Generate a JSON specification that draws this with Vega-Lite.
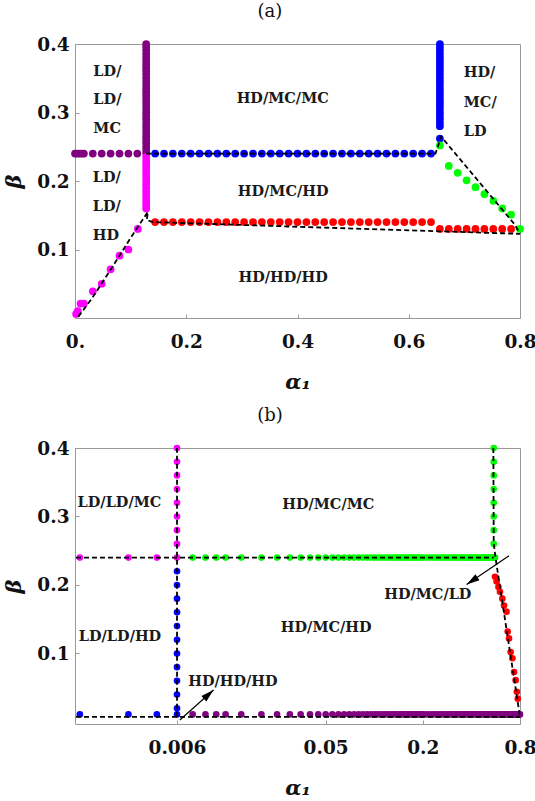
{
  "$schema": "https://vega.github.io/schema/vega-lite/v6.json",
  "background": "white",
  "padding": {"left": 3, "top": 2, "right": 5, "bottom": 5},
  "spacing": 13,
  "config": {
    "view": {"stroke": "#999999", "strokeWidth": 1},
    "axis": {
      "grid": false, "domain": false, "labelFlush": false, "labelOverlap": false,
      "labelFont": "DejaVu Serif", "labelFontWeight": "bold", "labelFontSize": 18.5, "labelColor": "#111111",
      "titleFont": "DejaVu Serif", "titleFontWeight": "bold", "titleFontStyle": "italic", "titleFontSize": 21, "titleColor": "#111111",
      "tickColor": "#999999", "tickSize": -4, "tickWidth": 1
    },
    "title": {"font": "DejaVu Serif", "fontSize": 18, "fontWeight": "normal", "color": "#111111"}
  },
  "vconcat": [
    {
      "title": {"text": "(a)", "frame": "bounds", "anchor": "middle", "offset": 14},
      "width": 445, "height": 274,
      "layer": [
        {
          "data": {"values": [
            {"a":0.0,"b":0.24,"c":"pu"},{"a":0.004,"b":0.24,"c":"pu"},{"a":0.008,"b":0.24,"c":"pu"},{"a":0.012,"b":0.24,"c":"pu"},{"a":0.016,"b":0.24,"c":"pu"},
            {"a":0.032,"b":0.24,"c":"pu"},{"a":0.048,"b":0.24,"c":"pu"},{"a":0.064,"b":0.24,"c":"pu"},{"a":0.08,"b":0.24,"c":"pu"},{"a":0.096,"b":0.24,"c":"pu"},{"a":0.112,"b":0.24,"c":"pu"},
            {"a":0.128,"b":0.24,"c":"pu"},{"a":0.128,"b":0.245,"c":"pu"},{"a":0.128,"b":0.25,"c":"pu"},{"a":0.128,"b":0.255,"c":"pu"},{"a":0.128,"b":0.26,"c":"pu"},{"a":0.128,"b":0.265,"c":"pu"},{"a":0.128,"b":0.27,"c":"pu"},{"a":0.128,"b":0.275,"c":"pu"},{"a":0.128,"b":0.28,"c":"pu"},{"a":0.128,"b":0.285,"c":"pu"},{"a":0.128,"b":0.29,"c":"pu"},{"a":0.128,"b":0.295,"c":"pu"},{"a":0.128,"b":0.3,"c":"pu"},{"a":0.128,"b":0.305,"c":"pu"},{"a":0.128,"b":0.31,"c":"pu"},{"a":0.128,"b":0.315,"c":"pu"},{"a":0.128,"b":0.32,"c":"pu"},{"a":0.128,"b":0.325,"c":"pu"},{"a":0.128,"b":0.33,"c":"pu"},{"a":0.128,"b":0.335,"c":"pu"},{"a":0.128,"b":0.34,"c":"pu"},{"a":0.128,"b":0.345,"c":"pu"},{"a":0.128,"b":0.35,"c":"pu"},{"a":0.128,"b":0.355,"c":"pu"},{"a":0.128,"b":0.36,"c":"pu"},{"a":0.128,"b":0.365,"c":"pu"},{"a":0.128,"b":0.37,"c":"pu"},{"a":0.128,"b":0.375,"c":"pu"},{"a":0.128,"b":0.38,"c":"pu"},{"a":0.128,"b":0.385,"c":"pu"},{"a":0.128,"b":0.39,"c":"pu"},{"a":0.128,"b":0.395,"c":"pu"},{"a":0.128,"b":0.4,"c":"pu"},
            {"a":0.128,"b":0.16,"c":"ma"},{"a":0.128,"b":0.165,"c":"ma"},{"a":0.128,"b":0.17,"c":"ma"},{"a":0.128,"b":0.175,"c":"ma"},{"a":0.128,"b":0.18,"c":"ma"},{"a":0.128,"b":0.185,"c":"ma"},{"a":0.128,"b":0.19,"c":"ma"},{"a":0.128,"b":0.195,"c":"ma"},{"a":0.128,"b":0.2,"c":"ma"},{"a":0.128,"b":0.205,"c":"ma"},{"a":0.128,"b":0.21,"c":"ma"},{"a":0.128,"b":0.215,"c":"ma"},{"a":0.128,"b":0.22,"c":"ma"},{"a":0.128,"b":0.225,"c":"ma"},{"a":0.128,"b":0.23,"c":"ma"},{"a":0.128,"b":0.235,"c":"ma"},
            {"a":0.002,"b":0.006,"c":"ma"},{"a":0.005,"b":0.01,"c":"ma"},{"a":0.01,"b":0.021,"c":"ma"},{"a":0.016,"b":0.021,"c":"ma"},{"a":0.032,"b":0.039,"c":"ma"},{"a":0.048,"b":0.05,"c":"ma"},{"a":0.064,"b":0.071,"c":"ma"},{"a":0.08,"b":0.091,"c":"ma"},{"a":0.096,"b":0.1,"c":"ma"},{"a":0.113,"b":0.13,"c":"ma"},
            {"a":0.144,"b":0.24,"c":"bl"},{"a":0.16,"b":0.24,"c":"bl"},{"a":0.176,"b":0.24,"c":"bl"},{"a":0.192,"b":0.24,"c":"bl"},{"a":0.208,"b":0.24,"c":"bl"},{"a":0.224,"b":0.24,"c":"bl"},{"a":0.24,"b":0.24,"c":"bl"},{"a":0.256,"b":0.24,"c":"bl"},{"a":0.272,"b":0.24,"c":"bl"},{"a":0.288,"b":0.24,"c":"bl"},{"a":0.304,"b":0.24,"c":"bl"},{"a":0.32,"b":0.24,"c":"bl"},{"a":0.336,"b":0.24,"c":"bl"},{"a":0.352,"b":0.24,"c":"bl"},{"a":0.368,"b":0.24,"c":"bl"},{"a":0.384,"b":0.24,"c":"bl"},{"a":0.4,"b":0.24,"c":"bl"},{"a":0.416,"b":0.24,"c":"bl"},{"a":0.432,"b":0.24,"c":"bl"},{"a":0.448,"b":0.24,"c":"bl"},{"a":0.464,"b":0.24,"c":"bl"},{"a":0.48,"b":0.24,"c":"bl"},{"a":0.496,"b":0.24,"c":"bl"},{"a":0.512,"b":0.24,"c":"bl"},{"a":0.528,"b":0.24,"c":"bl"},{"a":0.544,"b":0.24,"c":"bl"},{"a":0.56,"b":0.24,"c":"bl"},{"a":0.576,"b":0.24,"c":"bl"},{"a":0.592,"b":0.24,"c":"bl"},{"a":0.608,"b":0.24,"c":"bl"},{"a":0.624,"b":0.24,"c":"bl"},{"a":0.64,"b":0.24,"c":"bl"},
            {"a":0.656,"b":0.262,"c":"bl"},{"a":0.656,"b":0.28,"c":"bl"},{"a":0.656,"b":0.285,"c":"bl"},{"a":0.656,"b":0.29,"c":"bl"},{"a":0.656,"b":0.295,"c":"bl"},{"a":0.656,"b":0.3,"c":"bl"},{"a":0.656,"b":0.305,"c":"bl"},{"a":0.656,"b":0.31,"c":"bl"},{"a":0.656,"b":0.315,"c":"bl"},{"a":0.656,"b":0.32,"c":"bl"},{"a":0.656,"b":0.325,"c":"bl"},{"a":0.656,"b":0.33,"c":"bl"},{"a":0.656,"b":0.335,"c":"bl"},{"a":0.656,"b":0.34,"c":"bl"},{"a":0.656,"b":0.345,"c":"bl"},{"a":0.656,"b":0.35,"c":"bl"},{"a":0.656,"b":0.355,"c":"bl"},{"a":0.656,"b":0.36,"c":"bl"},{"a":0.656,"b":0.365,"c":"bl"},{"a":0.656,"b":0.37,"c":"bl"},{"a":0.656,"b":0.375,"c":"bl"},{"a":0.656,"b":0.38,"c":"bl"},{"a":0.656,"b":0.385,"c":"bl"},{"a":0.656,"b":0.39,"c":"bl"},{"a":0.656,"b":0.395,"c":"bl"},{"a":0.656,"b":0.4,"c":"bl"},
            {"a":0.144,"b":0.14,"c":"re"},{"a":0.16,"b":0.14,"c":"re"},{"a":0.176,"b":0.14,"c":"re"},{"a":0.192,"b":0.14,"c":"re"},{"a":0.208,"b":0.14,"c":"re"},{"a":0.224,"b":0.14,"c":"re"},{"a":0.24,"b":0.14,"c":"re"},{"a":0.256,"b":0.14,"c":"re"},{"a":0.272,"b":0.14,"c":"re"},{"a":0.288,"b":0.14,"c":"re"},{"a":0.304,"b":0.14,"c":"re"},{"a":0.32,"b":0.14,"c":"re"},{"a":0.336,"b":0.14,"c":"re"},{"a":0.352,"b":0.14,"c":"re"},{"a":0.368,"b":0.14,"c":"re"},{"a":0.384,"b":0.14,"c":"re"},{"a":0.4,"b":0.14,"c":"re"},{"a":0.416,"b":0.14,"c":"re"},{"a":0.432,"b":0.14,"c":"re"},{"a":0.448,"b":0.14,"c":"re"},{"a":0.464,"b":0.14,"c":"re"},{"a":0.48,"b":0.14,"c":"re"},{"a":0.496,"b":0.14,"c":"re"},{"a":0.512,"b":0.14,"c":"re"},{"a":0.528,"b":0.14,"c":"re"},{"a":0.544,"b":0.14,"c":"re"},{"a":0.56,"b":0.14,"c":"re"},{"a":0.576,"b":0.14,"c":"re"},{"a":0.592,"b":0.14,"c":"re"},{"a":0.608,"b":0.14,"c":"re"},{"a":0.624,"b":0.14,"c":"re"},{"a":0.64,"b":0.14,"c":"re"},
            {"a":0.656,"b":0.13,"c":"re"},{"a":0.672,"b":0.13,"c":"re"},{"a":0.688,"b":0.13,"c":"re"},{"a":0.704,"b":0.13,"c":"re"},{"a":0.72,"b":0.13,"c":"re"},{"a":0.736,"b":0.13,"c":"re"},{"a":0.752,"b":0.13,"c":"re"},{"a":0.768,"b":0.13,"c":"re"},{"a":0.784,"b":0.13,"c":"re"},
            {"a":0.656,"b":0.252,"c":"gr"},{"a":0.672,"b":0.222,"c":"gr"},{"a":0.688,"b":0.212,"c":"gr"},{"a":0.704,"b":0.201,"c":"gr"},{"a":0.72,"b":0.191,"c":"gr"},{"a":0.736,"b":0.181,"c":"gr"},{"a":0.752,"b":0.171,"c":"gr"},{"a":0.768,"b":0.16,"c":"gr"},{"a":0.784,"b":0.151,"c":"gr"},{"a":0.8,"b":0.13,"c":"gr"}
          ]},
          "mark": {"type": "circle", "size": 60, "opacity": 1},
          "encoding": {
            "x": {"field": "a", "type": "quantitative", "scale": {"domain": [0, 0.8], "nice": false, "zero": false},
                  "axis": {"values": [0, 0.2, 0.4, 0.6, 0.8], "labelExpr": "datum.value === 0 ? '0.' : format(datum.value, '.1f')", "labelPadding": 18, "title": "α₁", "titlePadding": 21}},
            "y": {"field": "b", "type": "quantitative", "scale": {"domain": [0, 0.4], "nice": false},
                  "axis": {"values": [0.1, 0.2, 0.3, 0.4], "labelExpr": "format(datum.value, '.1f')", "labelPadding": 10, "title": "β", "titlePadding": 12}},
            "color": {"field": "c", "type": "nominal", "legend": null,
                      "scale": {"domain": ["pu", "ma", "bl", "re", "gr"], "range": ["#800080", "#ff00ff", "#0000ff", "#ff0000", "#00ff00"]}}
          }
        },
        {
          "data": {"values": [
            {"a":0.006,"b":0.002,"s":1,"o":1},{"a":0.03,"b":0.028,"s":1,"o":2},{"a":0.066,"b":0.073,"s":1,"o":3},{"a":0.1,"b":0.117,"s":1,"o":4},{"a":0.131,"b":0.155,"s":1,"o":5},{"a":0.129,"b":0.143,"s":1,"o":6},{"a":0.14,"b":0.14,"s":1,"o":7},{"a":0.8,"b":0.1228,"s":1,"o":8},
            {"a":0.128,"b":0.24,"s":2,"o":1},{"a":0.648,"b":0.24,"s":2,"o":2},{"a":0.653,"b":0.252,"s":2,"o":3},{"a":0.658,"b":0.265,"s":2,"o":4},{"a":0.79,"b":0.137,"s":2,"o":5},{"a":0.8,"b":0.123,"s":2,"o":6}
          ]},
          "mark": {"type": "line", "color": "black", "strokeWidth": 1.8, "strokeDash": [5, 3]},
          "encoding": {
            "x": {"field": "a", "type": "quantitative"},
            "y": {"field": "b", "type": "quantitative"},
            "detail": {"field": "s", "type": "nominal"},
            "order": {"field": "o", "type": "quantitative"}
          }
        },
        {
          "data": {"values": [
            {"a":0.033,"b":0.3595,"t":"LD/"},{"a":0.033,"b":0.3177,"t":"LD/"},{"a":0.033,"b":0.2762,"t":"MC"},
            {"a":0.032,"b":0.2037,"t":"LD/"},{"a":0.032,"b":0.1618,"t":"LD/"},{"a":0.032,"b":0.1194,"t":"HD"},
            {"a":0.699,"b":0.357,"t":"HD/"},{"a":0.699,"b":0.314,"t":"MC/"},{"a":0.699,"b":0.2714,"t":"LD"}
          ]},
          "mark": {"type": "text", "align": "left", "baseline": "middle", "font": "DejaVu Serif", "fontWeight": "bold", "fontSize": 14.5, "color": "#1a1a1a"},
          "encoding": {
            "x": {"field": "a", "type": "quantitative"},
            "y": {"field": "b", "type": "quantitative"},
            "text": {"field": "t"}
          }
        },
        {
          "data": {"values": [
            {"a":0.3734,"b":0.319,"t":"HD/MC/MC"},{"a":0.3742,"b":0.1837,"t":"HD/MC/HD"},{"a":0.3742,"b":0.0585,"t":"HD/HD/HD"}
          ]},
          "mark": {"type": "text", "align": "center", "baseline": "middle", "font": "DejaVu Serif", "fontWeight": "bold", "fontSize": 14.5, "color": "#1a1a1a"},
          "encoding": {
            "x": {"field": "a", "type": "quantitative"},
            "y": {"field": "b", "type": "quantitative"},
            "text": {"field": "t"}
          }
        }
      ]
    },
    {
      "title": {"text": "(b)", "frame": "bounds", "anchor": "middle", "offset": 14},
      "width": 445, "height": 276,
      "layer": [
        {
          "data": {"values": [
            {"a":0.006,"b":0.26,"c":"ma"},{"a":0.006,"b":0.28,"c":"ma"},{"a":0.006,"b":0.3,"c":"ma"},{"a":0.006,"b":0.32,"c":"ma"},{"a":0.006,"b":0.34,"c":"ma"},{"a":0.006,"b":0.36,"c":"ma"},{"a":0.006,"b":0.38,"c":"ma"},{"a":0.006,"b":0.4,"c":"ma"},
            {"a":0.0015,"b":0.24,"c":"ma"},{"a":0.003,"b":0.24,"c":"ma"},{"a":0.0045,"b":0.24,"c":"ma"},{"a":0.006,"b":0.24,"c":"ma"},
            {"a":0.006,"b":0.011,"c":"bl"},{"a":0.006,"b":0.02,"c":"bl"},{"a":0.006,"b":0.04,"c":"bl"},{"a":0.006,"b":0.06,"c":"bl"},{"a":0.006,"b":0.08,"c":"bl"},{"a":0.006,"b":0.1,"c":"bl"},{"a":0.006,"b":0.12,"c":"bl"},{"a":0.006,"b":0.14,"c":"bl"},{"a":0.006,"b":0.16,"c":"bl"},{"a":0.006,"b":0.18,"c":"bl"},{"a":0.006,"b":0.2,"c":"bl"},{"a":0.006,"b":0.22,"c":"bl"},
            {"a":0.0015,"b":0.011,"c":"bl"},{"a":0.003,"b":0.011,"c":"bl"},{"a":0.0045,"b":0.011,"c":"bl"},
            {"a":0.55,"b":0.26,"c":"gr"},{"a":0.55,"b":0.28,"c":"gr"},{"a":0.55,"b":0.3,"c":"gr"},{"a":0.55,"b":0.32,"c":"gr"},{"a":0.55,"b":0.34,"c":"gr"},{"a":0.55,"b":0.36,"c":"gr"},{"a":0.55,"b":0.38,"c":"gr"},{"a":0.55,"b":0.4,"c":"gr"},
            {"a":0.0075,"b":0.24,"c":"gr"},{"a":0.009,"b":0.24,"c":"gr"},{"a":0.0105,"b":0.24,"c":"gr"},{"a":0.012,"b":0.24,"c":"gr"},{"a":0.015,"b":0.24,"c":"gr"},{"a":0.02,"b":0.24,"c":"gr"},{"a":0.025,"b":0.24,"c":"gr"},{"a":0.03,"b":0.24,"c":"gr"},{"a":0.035,"b":0.24,"c":"gr"},{"a":0.04,"b":0.24,"c":"gr"},{"a":0.045,"b":0.24,"c":"gr"},{"a":0.05,"b":0.24,"c":"gr"},{"a":0.055,"b":0.24,"c":"gr"},{"a":0.06,"b":0.24,"c":"gr"},{"a":0.065,"b":0.24,"c":"gr"},{"a":0.07,"b":0.24,"c":"gr"},{"a":0.075,"b":0.24,"c":"gr"},{"a":0.08,"b":0.24,"c":"gr"},{"a":0.085,"b":0.24,"c":"gr"},{"a":0.09,"b":0.24,"c":"gr"},{"a":0.095,"b":0.24,"c":"gr"},{"a":0.1,"b":0.24,"c":"gr"},{"a":0.105,"b":0.24,"c":"gr"},{"a":0.11,"b":0.24,"c":"gr"},{"a":0.115,"b":0.24,"c":"gr"},{"a":0.12,"b":0.24,"c":"gr"},{"a":0.125,"b":0.24,"c":"gr"},{"a":0.13,"b":0.24,"c":"gr"},{"a":0.135,"b":0.24,"c":"gr"},{"a":0.14,"b":0.24,"c":"gr"},{"a":0.145,"b":0.24,"c":"gr"},{"a":0.15,"b":0.24,"c":"gr"},{"a":0.155,"b":0.24,"c":"gr"},{"a":0.16,"b":0.24,"c":"gr"},{"a":0.165,"b":0.24,"c":"gr"},{"a":0.17,"b":0.24,"c":"gr"},{"a":0.175,"b":0.24,"c":"gr"},{"a":0.18,"b":0.24,"c":"gr"},{"a":0.185,"b":0.24,"c":"gr"},{"a":0.19,"b":0.24,"c":"gr"},{"a":0.195,"b":0.24,"c":"gr"},{"a":0.2,"b":0.24,"c":"gr"},{"a":0.21,"b":0.24,"c":"gr"},{"a":0.22,"b":0.24,"c":"gr"},{"a":0.23,"b":0.24,"c":"gr"},{"a":0.24,"b":0.24,"c":"gr"},{"a":0.25,"b":0.24,"c":"gr"},{"a":0.26,"b":0.24,"c":"gr"},{"a":0.27,"b":0.24,"c":"gr"},{"a":0.28,"b":0.24,"c":"gr"},{"a":0.29,"b":0.24,"c":"gr"},{"a":0.3,"b":0.24,"c":"gr"},{"a":0.31,"b":0.24,"c":"gr"},{"a":0.32,"b":0.24,"c":"gr"},{"a":0.33,"b":0.24,"c":"gr"},{"a":0.34,"b":0.24,"c":"gr"},{"a":0.35,"b":0.24,"c":"gr"},{"a":0.36,"b":0.24,"c":"gr"},{"a":0.37,"b":0.24,"c":"gr"},{"a":0.38,"b":0.24,"c":"gr"},{"a":0.39,"b":0.24,"c":"gr"},{"a":0.4,"b":0.24,"c":"gr"},{"a":0.41,"b":0.24,"c":"gr"},{"a":0.42,"b":0.24,"c":"gr"},{"a":0.43,"b":0.24,"c":"gr"},{"a":0.44,"b":0.24,"c":"gr"},{"a":0.45,"b":0.24,"c":"gr"},{"a":0.46,"b":0.24,"c":"gr"},{"a":0.47,"b":0.24,"c":"gr"},{"a":0.48,"b":0.24,"c":"gr"},{"a":0.49,"b":0.24,"c":"gr"},{"a":0.5,"b":0.24,"c":"gr"},{"a":0.51,"b":0.24,"c":"gr"},{"a":0.52,"b":0.24,"c":"gr"},{"a":0.53,"b":0.24,"c":"gr"},{"a":0.54,"b":0.24,"c":"gr"},{"a":0.55,"b":0.24,"c":"gr"},{"a":0.56,"b":0.24,"c":"gr"},
            {"a":0.0075,"b":0.011,"c":"pu"},{"a":0.009,"b":0.011,"c":"pu"},{"a":0.0105,"b":0.011,"c":"pu"},{"a":0.012,"b":0.011,"c":"pu"},{"a":0.015,"b":0.011,"c":"pu"},{"a":0.02,"b":0.011,"c":"pu"},{"a":0.025,"b":0.011,"c":"pu"},{"a":0.03,"b":0.011,"c":"pu"},{"a":0.035,"b":0.011,"c":"pu"},{"a":0.04,"b":0.011,"c":"pu"},{"a":0.045,"b":0.011,"c":"pu"},{"a":0.05,"b":0.011,"c":"pu"},{"a":0.055,"b":0.011,"c":"pu"},{"a":0.06,"b":0.011,"c":"pu"},{"a":0.065,"b":0.011,"c":"pu"},{"a":0.07,"b":0.011,"c":"pu"},{"a":0.075,"b":0.011,"c":"pu"},{"a":0.08,"b":0.011,"c":"pu"},{"a":0.085,"b":0.011,"c":"pu"},{"a":0.09,"b":0.011,"c":"pu"},{"a":0.095,"b":0.011,"c":"pu"},{"a":0.1,"b":0.011,"c":"pu"},{"a":0.105,"b":0.011,"c":"pu"},{"a":0.11,"b":0.011,"c":"pu"},{"a":0.115,"b":0.011,"c":"pu"},{"a":0.12,"b":0.011,"c":"pu"},{"a":0.125,"b":0.011,"c":"pu"},{"a":0.13,"b":0.011,"c":"pu"},{"a":0.135,"b":0.011,"c":"pu"},{"a":0.14,"b":0.011,"c":"pu"},{"a":0.145,"b":0.011,"c":"pu"},{"a":0.15,"b":0.011,"c":"pu"},{"a":0.155,"b":0.011,"c":"pu"},{"a":0.16,"b":0.011,"c":"pu"},{"a":0.165,"b":0.011,"c":"pu"},{"a":0.17,"b":0.011,"c":"pu"},{"a":0.175,"b":0.011,"c":"pu"},{"a":0.18,"b":0.011,"c":"pu"},{"a":0.185,"b":0.011,"c":"pu"},{"a":0.19,"b":0.011,"c":"pu"},{"a":0.195,"b":0.011,"c":"pu"},{"a":0.2,"b":0.011,"c":"pu"},{"a":0.21,"b":0.011,"c":"pu"},{"a":0.22,"b":0.011,"c":"pu"},{"a":0.23,"b":0.011,"c":"pu"},{"a":0.24,"b":0.011,"c":"pu"},{"a":0.25,"b":0.011,"c":"pu"},{"a":0.26,"b":0.011,"c":"pu"},{"a":0.27,"b":0.011,"c":"pu"},{"a":0.28,"b":0.011,"c":"pu"},{"a":0.29,"b":0.011,"c":"pu"},{"a":0.3,"b":0.011,"c":"pu"},{"a":0.31,"b":0.011,"c":"pu"},{"a":0.32,"b":0.011,"c":"pu"},{"a":0.33,"b":0.011,"c":"pu"},{"a":0.34,"b":0.011,"c":"pu"},{"a":0.35,"b":0.011,"c":"pu"},{"a":0.36,"b":0.011,"c":"pu"},{"a":0.37,"b":0.011,"c":"pu"},{"a":0.38,"b":0.011,"c":"pu"},{"a":0.39,"b":0.011,"c":"pu"},{"a":0.4,"b":0.011,"c":"pu"},{"a":0.41,"b":0.011,"c":"pu"},{"a":0.42,"b":0.011,"c":"pu"},{"a":0.43,"b":0.011,"c":"pu"},{"a":0.44,"b":0.011,"c":"pu"},{"a":0.45,"b":0.011,"c":"pu"},{"a":0.46,"b":0.011,"c":"pu"},{"a":0.47,"b":0.011,"c":"pu"},{"a":0.48,"b":0.011,"c":"pu"},{"a":0.49,"b":0.011,"c":"pu"},{"a":0.5,"b":0.011,"c":"pu"},{"a":0.51,"b":0.011,"c":"pu"},{"a":0.52,"b":0.011,"c":"pu"},{"a":0.53,"b":0.011,"c":"pu"},{"a":0.54,"b":0.011,"c":"pu"},{"a":0.55,"b":0.011,"c":"pu"},{"a":0.56,"b":0.011,"c":"pu"},{"a":0.57,"b":0.011,"c":"pu"},{"a":0.58,"b":0.011,"c":"pu"},{"a":0.59,"b":0.011,"c":"pu"},{"a":0.6,"b":0.011,"c":"pu"},{"a":0.61,"b":0.011,"c":"pu"},{"a":0.62,"b":0.011,"c":"pu"},{"a":0.63,"b":0.011,"c":"pu"},{"a":0.64,"b":0.011,"c":"pu"},{"a":0.65,"b":0.011,"c":"pu"},{"a":0.66,"b":0.011,"c":"pu"},{"a":0.67,"b":0.011,"c":"pu"},{"a":0.68,"b":0.011,"c":"pu"},{"a":0.69,"b":0.011,"c":"pu"},{"a":0.7,"b":0.011,"c":"pu"},{"a":0.71,"b":0.011,"c":"pu"},{"a":0.72,"b":0.011,"c":"pu"},{"a":0.73,"b":0.011,"c":"pu"},{"a":0.74,"b":0.011,"c":"pu"},{"a":0.75,"b":0.011,"c":"pu"},{"a":0.76,"b":0.011,"c":"pu"},{"a":0.77,"b":0.011,"c":"pu"},{"a":0.78,"b":0.011,"c":"pu"},{"a":0.79,"b":0.011,"c":"pu"},{"a":0.8,"b":0.011,"c":"pu"},
            {"a":0.56,"b":0.212,"c":"re"},{"a":0.573,"b":0.205,"c":"re"},{"a":0.588,"b":0.197,"c":"re"},{"a":0.601,"b":0.19,"c":"re"},{"a":0.622,"b":0.18,"c":"re"},{"a":0.637,"b":0.17,"c":"re"},{"a":0.66,"b":0.161,"c":"re"},{"a":0.671,"b":0.132,"c":"re"},{"a":0.684,"b":0.122,"c":"re"},{"a":0.7,"b":0.102,"c":"re"},{"a":0.718,"b":0.093,"c":"re"},{"a":0.735,"b":0.073,"c":"re"},{"a":0.752,"b":0.061,"c":"re"},{"a":0.765,"b":0.044,"c":"re"},{"a":0.775,"b":0.034,"c":"re"}
          ]},
          "mark": {"type": "circle", "size": 44, "opacity": 1},
          "encoding": {
            "x": {"field": "a", "type": "quantitative", "scale": {"type": "log", "domain": [0.0014, 0.8], "nice": false, "zero": false},
                  "axis": {"values": [0.006, 0.05, 0.2, 0.8], "labelExpr": "format(datum.value, '~g')", "labelPadding": 18, "title": "α₁", "titlePadding": 21}},
            "y": {"field": "b", "type": "quantitative", "scale": {"domain": [-0.003, 0.4], "nice": false, "zero": false},
                  "axis": {"values": [0.1, 0.2, 0.3, 0.4], "labelExpr": "format(datum.value, '.1f')", "labelPadding": 10, "title": "β", "titlePadding": 12}},
            "color": {"field": "c", "type": "nominal", "legend": null,
                      "scale": {"domain": ["pu", "ma", "bl", "re", "gr"], "range": ["#800080", "#ff00ff", "#0000ff", "#ff0000", "#00ff00"]}}
          }
        },
        {
          "data": {"values": [
            {"a":0.00142,"b":0.24,"s":1,"o":1},{"a":0.55,"b":0.24,"s":1,"o":2},
            {"a":0.006,"b":0.0075,"s":2,"o":1},{"a":0.006,"b":0.4,"s":2,"o":2},
            {"a":0.00142,"b":0.0075,"s":3,"o":1},{"a":0.8,"b":0.0075,"s":3,"o":2},
            {"a":0.547,"b":0.4,"s":4,"o":1},{"a":0.55,"b":0.26,"s":4,"o":2},{"a":0.565,"b":0.2387,"s":4,"o":3},{"a":0.8,"b":0.0075,"s":4,"o":4}
          ]},
          "mark": {"type": "line", "color": "black", "strokeWidth": 1.8, "strokeDash": [5, 3]},
          "encoding": {
            "x": {"field": "a", "type": "quantitative"},
            "y": {"field": "b", "type": "quantitative"},
            "detail": {"field": "s", "type": "nominal"},
            "order": {"field": "o", "type": "quantitative"}
          }
        },
        {
          "data": {"values": [
            {"a":0.00625,"b":0.0028,"a2":0.0101,"b2":0.0466},
            {"a":0.684,"b":0.2426,"a2":0.3737,"b2":0.2007}
          ]},
          "mark": {"type": "rule", "color": "black", "strokeWidth": 1.2},
          "encoding": {
            "x": {"field": "a", "type": "quantitative"},
            "y": {"field": "b", "type": "quantitative"},
            "x2": {"field": "a2"},
            "y2": {"field": "b2"}
          }
        },
        {
          "data": {"values": [{"a":0.0101,"b":0.0466}]},
          "mark": {"type": "point", "shape": "M0,0L-0.28,1L0.28,1Z", "filled": true, "color": "black", "opacity": 1, "size": 676, "angle": 48},
          "encoding": {
            "x": {"field": "a", "type": "quantitative"},
            "y": {"field": "b", "type": "quantitative"}
          }
        },
        {
          "data": {"values": [{"a":0.3737,"b":0.2007}]},
          "mark": {"type": "point", "shape": "M0,0L-0.28,1L0.28,1Z", "filled": true, "color": "black", "opacity": 1, "size": 676, "angle": 236},
          "encoding": {
            "x": {"field": "a", "type": "quantitative"},
            "y": {"field": "b", "type": "quantitative"}
          }
        },
        {
          "data": {"values": [
            {"a":0.00264,"b":0.319,"t":"LD/LD/MC"},{"a":0.00266,"b":0.1234,"t":"LD/LD/HD"},
            {"a":0.0519,"b":0.3166,"t":"HD/MC/MC"},{"a":0.0504,"b":0.1375,"t":"HD/MC/HD"},
            {"a":0.01332,"b":0.0577,"t":"HD/HD/HD"},{"a":0.2148,"b":0.185,"t":"HD/MC/LD"}
          ]},
          "mark": {"type": "text", "align": "center", "baseline": "middle", "font": "DejaVu Serif", "fontWeight": "bold", "fontSize": 14.5, "color": "#1a1a1a"},
          "encoding": {
            "x": {"field": "a", "type": "quantitative"},
            "y": {"field": "b", "type": "quantitative"},
            "text": {"field": "t"}
          }
        }
      ]
    }
  ]
}
